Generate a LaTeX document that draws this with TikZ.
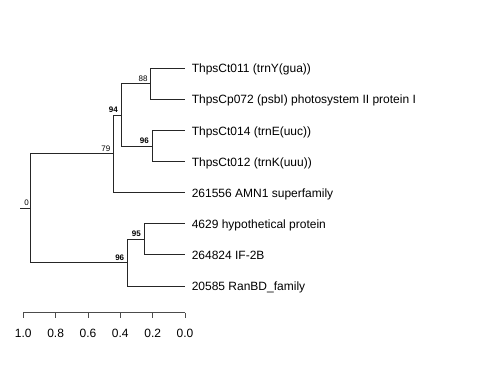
\documentclass[tikz,border=0pt]{standalone}
\usepackage{fontspec}
\setmainfont{Liberation Sans}
\begin{document}
\begin{tikzpicture}[x=1pt,y=-1pt,
  edge/.style={line width=0.9pt,black!85},
  leaf/.style={anchor=base west,inner sep=0pt,font=\fontsize{12}{14}\selectfont},
  bs/.style={anchor=base east,inner sep=0pt,font=\fontsize{8}{9}\selectfont},
  bsb/.style={bs,font=\fontsize{8}{9}\selectfont\bfseries},
  axislbl/.style={anchor=base,inner sep=0pt,font=\fontsize{12}{14}\selectfont},
  axisline/.style={line width=0.9pt,black!70}]
\useasboundingbox (0,0) rectangle (480,384);
% internal nodes
\coordinate (stub) at (20,208.25);
\coordinate (root) at (30.5,208.25);
\coordinate (n79) at (113.7,153.8);
\coordinate (n94) at (121.3,114.95);
\coordinate (n88) at (150.7,83.85);
\coordinate (n96a) at (152.3,146.05);
\coordinate (n96b) at (127.7,262.7);
\coordinate (n95) at (144.3,239.35);
% tips
\coordinate (t1) at (185,68.3);
\coordinate (t2) at (185,99.4);
\coordinate (t3) at (185,130.5);
\coordinate (t4) at (185,161.6);
\coordinate (t5) at (185,192.7);
\coordinate (t6) at (185,223.8);
\coordinate (t7) at (185,254.9);
\coordinate (t8) at (185,286.0);
% edges
\draw[edge] (stub) -- (root);
\draw[edge] (root) |- (n79);
\draw[edge] (root) |- (n96b);
\draw[edge] (n79) |- (n94);
\draw[edge] (n79) |- (t5);
\draw[edge] (n94) |- (n88);
\draw[edge] (n94) |- (n96a);
\draw[edge] (n88) |- (t1);
\draw[edge] (n88) |- (t2);
\draw[edge] (n96a) |- (t3);
\draw[edge] (n96a) |- (t4);
\draw[edge] (n96b) |- (n95);
\draw[edge] (n96b) |- (t8);
\draw[edge] (n95) |- (t6);
\draw[edge] (n95) |- (t7);
% leaf labels
\node[leaf] (l1) at (191.6,72.8) {ThpsCt011 (trnY(gua))};
\node[leaf] (l2) at (191.6,103.9) {ThpsCp072 (psbI) photosystem II protein I};
\node[leaf] (l3) at (191.6,135.0) {ThpsCt014 (trnE(uuc))};
\node[leaf] (l4) at (191.6,166.1) {ThpsCt012 (trnK(uuu))};
\node[leaf] (l5) at (191.6,197.2) {261556 AMN1 superfamily};
\node[leaf] (l6) at (191.6,228.3) {4629 hypothetical protein};
\node[leaf] (l7) at (191.6,259.4) {264824 IF-2B};
\node[leaf] (l8) at (191.6,290.5) {20585 RanBD\_family};
% bootstrap labels
\node[bs] (b0) at (29,205.6) {0};
\node[bs] (b79) at (110.5,151.2) {79};
\node[bsb] (b94) at (118,112.4) {94};
\node[bs] (b88) at (147.7,81.4) {88};
\node[bsb] (b96a) at (149,143.5) {96};
\node[bsb] (b96b) at (124.4,260.2) {96};
\node[bsb] (b95) at (141,236.8) {95};
% axis
\coordinate (a10) at (23.3,312.7);
\coordinate (a08) at (55.6,312.7);
\coordinate (a06) at (88.0,312.7);
\coordinate (a04) at (120.3,312.7);
\coordinate (a02) at (152.7,312.7);
\coordinate (a00) at (185.0,312.7);
\draw[axisline] (a10) -- (a00);
\foreach \p/\t in {a10/1.0,a08/0.8,a06/0.6,a04/0.4,a02/0.2,a00/0.0}{
  \draw[axisline] (\p) -- ++(0,5);
  \node[axislbl] (lab\p) at ([yshift=-24.3pt]\p) {\t};
}
\end{tikzpicture}
\end{document}
